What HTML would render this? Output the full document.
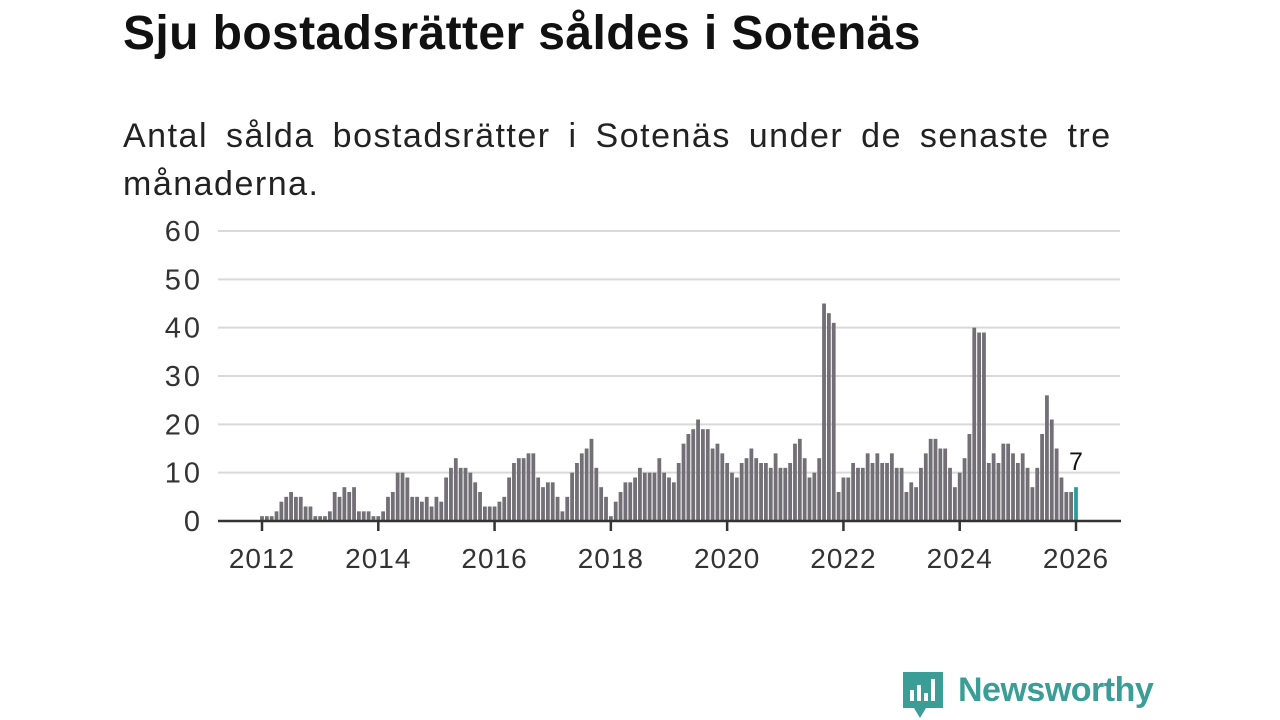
<!DOCTYPE html>
<html><head><meta charset="utf-8"><style>
body{margin:0;width:1280px;height:720px;background:#fff;font-family:"Liberation Sans",sans-serif;overflow:hidden;position:relative}
#title{position:absolute;left:123px;top:6px;font-size:48px;font-weight:bold;color:#111;margin:0;letter-spacing:0.4px;white-space:nowrap}
#sub{position:absolute;left:123px;top:112px;font-size:34px;line-height:48px;color:#222;width:1060px;letter-spacing:1.5px;word-spacing:7px}
svg{position:absolute;left:0;top:0}
#logo{position:absolute;left:958px;top:671px;font-size:34px;font-weight:bold;color:#3a9e97;letter-spacing:-0.5px}
</style></head><body>
<h1 id="title">Sju bostadsrätter såldes i Sotenäs</h1>
<div id="sub">Antal sålda bostadsrätter i Sotenäs under de senaste tre månaderna.</div>
<svg id="chart" width="1280" height="720"></svg>
<svg width="1280" height="720"><path d="M903 672h40v36h-17l-6 10-6-10h-11z" fill="#3a9e97"/><rect x="910" y="690" width="4" height="11" fill="#fff"/><rect x="917" y="685" width="4" height="16" fill="#fff"/><rect x="924" y="693" width="4" height="8" fill="#fff"/><rect x="931" y="679" width="4" height="22" fill="#fff"/></svg>
<div id="logo">Newsworthy</div>
<script>
const values=[1,1,1,2,4,5,6,5,5,3,3,1,
1,1,2,6,5,7,6,7,2,2,2,1,
1,2,5,6,10,10,9,5,5,4,5,3,
5,4,9,11,13,11,11,10,8,6,3,3,
3,4,5,9,12,13,13,14,14,9,7,8,
8,5,2,5,10,12,14,15,17,11,7,5,
1,4,6,8,8,9,11,10,10,10,13,10,
9,8,12,16,18,19,21,19,19,15,16,14,
12,10,9,12,13,15,13,12,12,11,14,11,
11,12,16,17,13,9,10,13,45,43,41,6,
9,9,12,11,11,14,12,14,12,12,14,11,
11,6,8,7,11,14,17,17,15,15,11,7,
10,13,18,40,39,39,12,14,12,16,16,14,
12,14,11,7,11,18,26,21,15,9,6,6,
7];
const startYear=2012;
const yTicks=[0,10,20,30,40,50,60];
const xTicks=[2012,2014,2016,2018,2020,2022,2024,2026];
const NS="http://www.w3.org/2000/svg";
const svg=document.getElementById('chart');
const x=m=>262+(1076-262)*m/168;
const y=v=>521-v*(290/60);
function mk(t,a){const e=document.createElementNS(NS,t);for(const k in a)e.setAttribute(k,a[k]);svg.appendChild(e);return e;}
yTicks.forEach(v=>{
 if(v>0){const g=mk('line',{x1:218,x2:1120,y1:y(v),y2:y(v),stroke:'#d9d9d9','stroke-width':2});
 
 }
 const t=mk('text',{x:203,y:y(v)+10,'text-anchor':'end','font-size':29,'letter-spacing':3,fill:'#333','font-family':'Liberation Sans, sans-serif'});
 t.textContent=v;
 
 
});
values.forEach((v,i)=>{
 const last=i===values.length-1;
 const r=mk('rect',{x:x(i)-1.9,y:y(v),width:3.8,height:521-y(v),fill:last?'#2a9d9a':'#727076'});
 
 
});
const lv=values[values.length-1];
const lab=mk('text',{x:x(values.length-1),y:y(lv)-17,'text-anchor':'middle','font-size':25,fill:'#111','font-family':'Liberation Sans, sans-serif'});
lab.textContent=lv;


const ax=mk('line',{x1:218,x2:1121,y1:521,y2:521,stroke:'#333','stroke-width':2.5});


xTicks.forEach(yr=>{
 const m=(yr-startYear)*12;
 const tk=mk('line',{x1:x(m),x2:x(m),y1:521,y2:531,stroke:'#333','stroke-width':2.5});
 
 
 const t=mk('text',{x:x(m),y:568,'text-anchor':'middle','font-size':28,'letter-spacing':1,fill:'#333','font-family':'Liberation Sans, sans-serif'});
 t.textContent=yr;
 
 
});
</script>
</body></html>
